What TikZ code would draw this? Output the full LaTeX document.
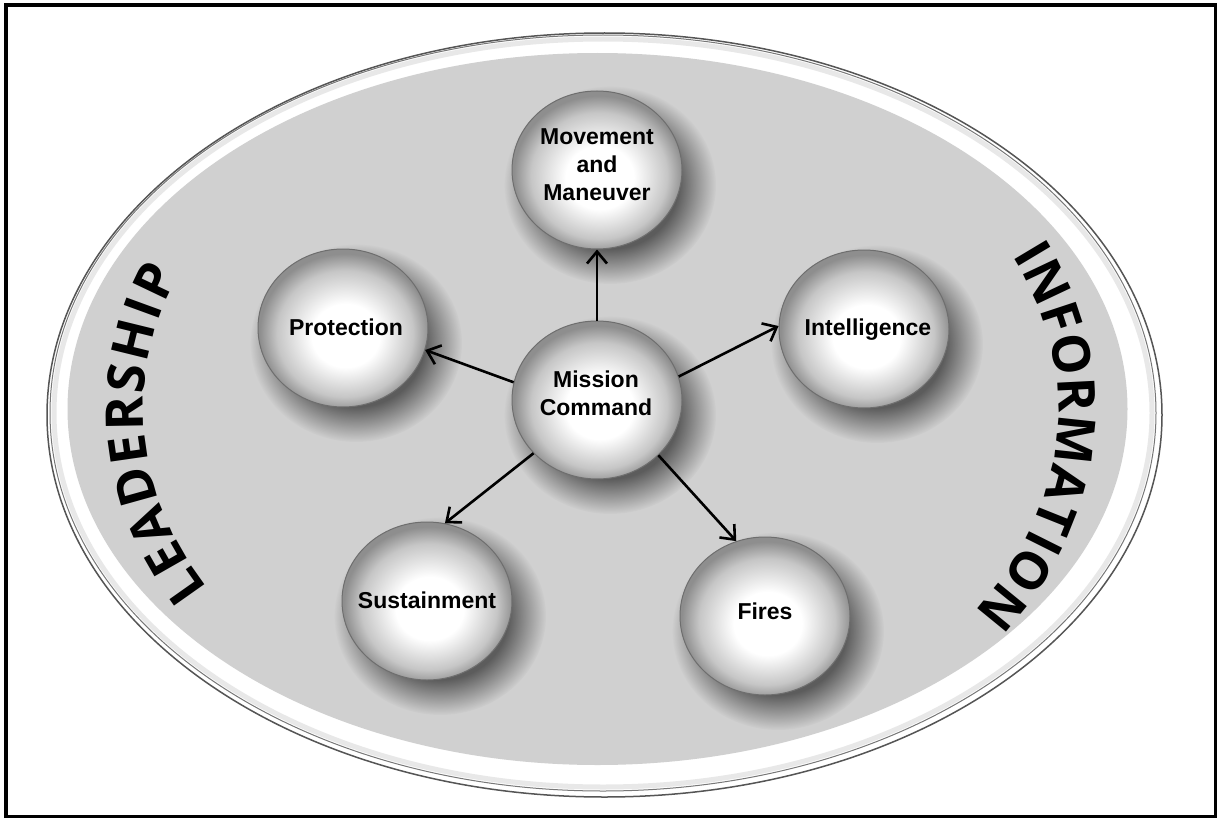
\documentclass[tikz,border=0pt]{standalone}
\usepackage{fontspec}
\setmainfont{Liberation Sans}
\newfontfamily\bigfont{Open Sans}
\usetikzlibrary{shapes.geometric,arrows.meta,fadings}
\definecolor{fieldgray}{RGB}{208,208,208}
\definecolor{balledge}{RGB}{142,142,142}
\definecolor{ballmid}{RGB}{198,198,198}
\definecolor{ballline}{RGB}{110,110,110}
\definecolor{rimline}{RGB}{85,85,85}
\definecolor{shadowdark}{RGB}{92,92,92}
\pgfdeclareradialshading{sphereshade}{\pgfpoint{1bp}{-3bp}}{color(0bp)=(white); color(10bp)=(white); color(20bp)=(ballmid); color(25bp)=(balledge); color(50bp)=(balledge)}
\pgfdeclareradialshading{softshadowshade}{\pgfpointorigin}{color(0bp)=(pgftransparent!0); color(16bp)=(pgftransparent!0); color(25bp)=(pgftransparent!100); color(50bp)=(pgftransparent!100)}
\pgfdeclarefading{softshadow}{\pgfuseshading{softshadowshade}}
\begin{document}
\begin{tikzpicture}[x=1bp,y=-1bp,
 ball/.style={ellipse, minimum width=170bp, minimum height=158bp, inner sep=0pt,
   shading=sphereshade, draw=ballline, line width=1bp},
 ballshadow/.style={fill=shadowdark, path fading=softshadow},
 lbl/.style={font=\fontsize{23bp}{28bp}\selectfont\bfseries, align=center, inner sep=0pt},
 arr/.style={line width=2.6bp, -{Straight Barb[length=12bp,width=20bp,line width=2.6bp]}},
 bigletter/.style={font=\bigfont\fontsize{52bp}{52bp}\selectfont\bfseries, inner sep=0pt}
]
\useasboundingbox (0,0) rectangle (1217,818);
\fill[white] (0,0) rectangle (1217,818);
\draw[line width=3.5bp] (6,5) rectangle (1215.5,816.5);

% large field
\draw[rimline, line width=1.5bp, fill=white] (604.5,415) ellipse [x radius=557.5, y radius=382];
\draw[gray!18, line width=5bp] (603,413) ellipse [x radius=549, y radius=374];
\draw[rimline!80, line width=1bp] (603,413) ellipse [x radius=553, y radius=378];
\fill[fieldgray] (597.5,409) ellipse [x radius=530, y radius=356];

% soft shadows
\foreach \x/\y in {597/170, 343/328, 864/329, 597/400, 427/601, 765/616}
  \fill[ballshadow] (\x+13,\y+15) ellipse [x radius=106, y radius=99];

% balls
\node[ball] (move) at (597,170) {};
\node[ball] (prot) at (343,328) {};
\node[ball] (intel) at (864,329) {};
\node[ball] (mc) at (597,400) {};
\node[ball] (sust) at (427,601) {};
\node[ball] (fires) at (765,616) {};

\node[lbl] (movet) at (597,165) {Movement\\and\\Maneuver};
\node[lbl] (prott) at (346,327) {Protection};
\node[lbl] (intelt) at (868,330) {Intelligence};
\node[lbl] (mct) at (596,393) {Mission\\Command};
\node[lbl] (sustt) at (427,600) {Sustainment};
\node[lbl] (firest) at (765,611) {Fires};

% connectors
\draw[arr] (mc.90) -- (move.270);
\draw[arr] (mc.168) -- (prot.-15);
\draw[arr] (mc.16) -- (intel.178);
\draw[arr] (mc.220) -- (sust.77);
\draw[arr] (mc.-42) -- (fires.111);

% curved words
\foreach \c/\t [count=\i] in {L/151.24, E/156.08, A/161.54, D/167.79, E/173.65, R/179.21, S/184.78, H/190.8, I/195.84, P/200.35}{
  \pgfmathsetmacro\rr{atan2(-370*cos(\t), -476*sin(\t))}
  \node[bigletter, rotate=\rr] (lead\i) at ({601+476*cos(\t)},{409+370*sin(\t)}) {\c};
}
\foreach \c/\t [count=\i] in {I/-24.94, N/-20.20, F/-14.42, O/-8.51, R/-2.25, M/4.74, A/11.81, T/17.24, I/21.25, O/26.02, N/32.42}{
  \pgfmathsetmacro\rr{atan2(-370*cos(\t), -476*sin(\t))}
  \node[bigletter, rotate=\rr] (info\i) at ({601+476*cos(\t)},{409+370*sin(\t)}) {\c};
}
\end{tikzpicture}
\end{document}
